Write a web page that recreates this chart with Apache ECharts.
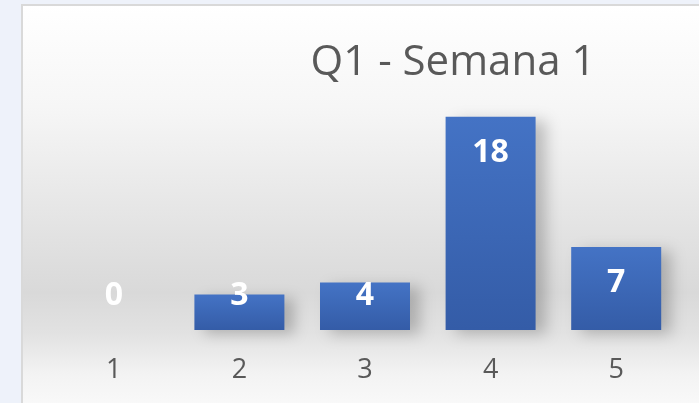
<!DOCTYPE html>
<html>
<head>
<meta charset="utf-8">
<style>
    html, body { margin: 0; padding: 0; background: #eef2fa; }
    #chart { width: 699px; height: 403px; }
</style>
<script src="https://cdn.jsdelivr.net/npm/echarts@6/dist/echarts.min.js"></script>
</head>
<body>
<div id="chart"></div>
<script>
// data
var categories = ["1", "2", "3", "4", "5"];
var values = [0, 3, 4, 18, 7];
var titleText = "Q1 - Semana 1";

var chart = echarts.init(document.getElementById("chart"));

// Excel pushes the label up when the bar is too short to hold it
var seriesData = values.map(function (v) {
    if (v < 5) {
        return { value: v, label: { position: "insideBottom", distance: 18 } };
    }
    return v;
});

chart.setOption({
    backgroundColor: "transparent",
    graphic: [
        {
            type: "rect",
            z: -10,
            silent: true,
            shape: { x: 22, y: 5, width: 690, height: 410 },
            style: {
                stroke: "#d9d9d9",
                lineWidth: 2,
                fill: {
                    type: "linear",
                    x: 0, y: 0, x2: 0, y2: 1,
                    colorStops: [
                        { offset: 0, color: "#ffffff" },
                        { offset: 0.25, color: "#f6f6f6" },
                        { offset: 0.7, color: "#d9d9d9" },
                        { offset: 0.8, color: "#e2e2e2" },
                        { offset: 0.9, color: "#f3f3f3" },
                        { offset: 1, color: "#fbfbfb" }
                    ]
                }
            }
        }
    ],
    title: {
        text: titleText,
        left: 448,
        textAlign: "center",
        top: 37,
        textStyle: {
            fontFamily: "Open Sans",
            fontSize: 42,
            fontWeight: "normal",
            color: "#595959"
        }
    },
    grid: {
        left: 51,
        right: 20,
        top: 93,
        bottom: 73
    },
    xAxis: {
        type: "category",
        data: categories,
        axisLine: { show: false },
        axisTick: { show: false },
        axisLabel: {
            margin: 27,
            color: "#595959",
            fontFamily: "Open Sans",
            fontSize: 27
        }
    },
    yAxis: {
        type: "value",
        min: 0,
        max: 20,
        show: false,
        splitLine: { show: false }
    },
    series: [
        {
            type: "bar",
            barWidth: 90,
            data: seriesData,
            itemStyle: {
                color: {
                    type: "linear",
                    x: 0, y: 0, x2: 0, y2: 1,
                    colorStops: [
                        { offset: 0, color: "#4473c5" },
                        { offset: 1, color: "#345ca7" }
                    ]
                },
                shadowColor: "rgba(0, 0, 0, 0.22)",
                shadowBlur: 14,
                shadowOffsetX: 10,
                shadowOffsetY: 4
            },
            label: {
                show: true,
                position: "insideTop",
                distance: 20,
                color: "#ffffff",
                fontFamily: "Open Sans",
                fontWeight: "bold",
                fontSize: 32
            }
        }
    ]
});
</script>
</body>
</html>
